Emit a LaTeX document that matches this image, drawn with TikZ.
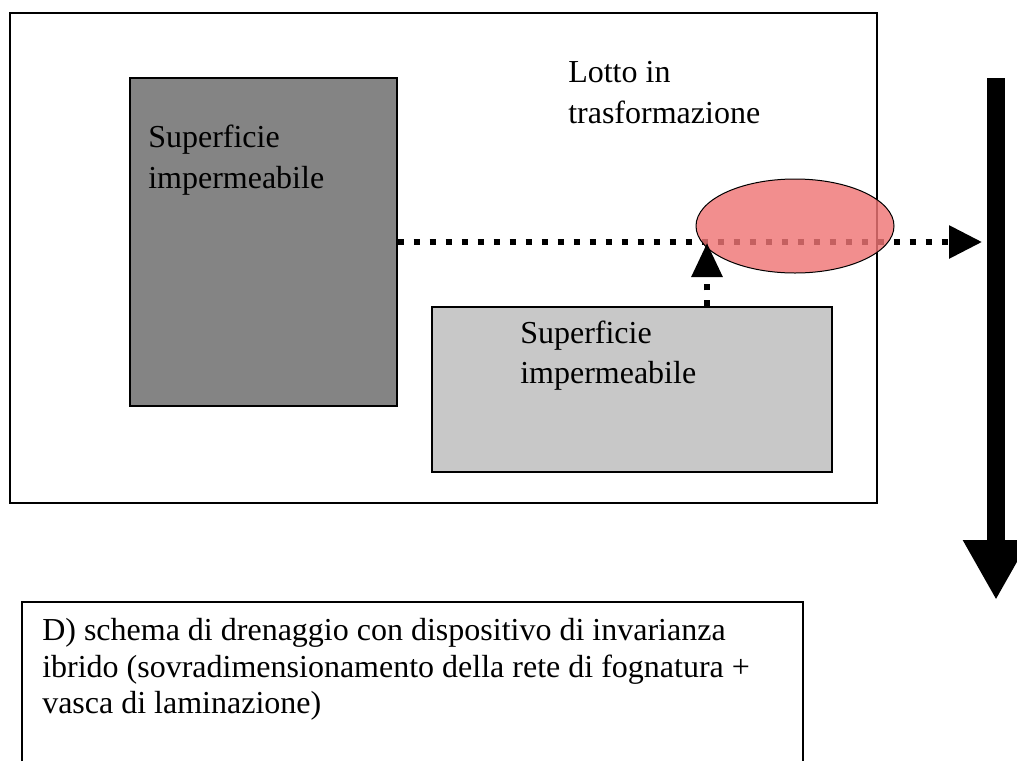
\documentclass[tikz,border=0pt]{standalone}
\usepackage{fontspec}
\setmainfont{Liberation Serif}
\usetikzlibrary{arrows.meta,shapes.geometric}
\definecolor{darkfill}{RGB}{132,132,132}
\definecolor{lightfill}{RGB}{200,200,200}
\definecolor{pondfill}{RGB}{240,118,118}
\tikzset{
  box/.style={draw=black, line width=1pt, inner sep=0pt},
  lbl/.style={anchor=base west, inner sep=0pt, font=\fontsize{24}{28}\selectfont},
  dotline/.style={line width=4.5pt, dash pattern=on 4.5pt off 7.5pt},
}
\begin{document}
\begin{tikzpicture}[x=0.75pt,y=-0.75pt]
\clip (0,0) rectangle (1017,761);
\fill[white] (0,0) rectangle (1017,761);
% outer lot
\node[box, minimum width=650.25pt, minimum height=367.5pt] (lotto) at (443.5,258) {};
% impermeable surfaces
\node[box, fill=darkfill, minimum width=200.25pt, minimum height=246pt] (dark) at (263.5,242) {};
\node[box, fill=lightfill, minimum width=300pt, minimum height=123.75pt] (light) at (632,389.5) {};
% texts
\node[lbl] (lt1) at (568,82) {Lotto in};
\node[lbl] (lt2) at (568,123) {trasformazione};
\node[lbl] (da1) at (148,147) {Superficie};
\node[lbl] (da2) at (148,188) {impermeabile};
\node[lbl] (li1) at (520,343) {Superficie};
\node[lbl] (li2) at (520,383) {impermeabile};
% receiving sewer (thick vertical arrow)
\coordinate (vtop) at (996,78);
\coordinate (vend) at (996,600);
\draw[line width=13.5pt, -{Triangle[length=45pt,width=46.5pt]}] (vtop) -- (vend);
% dotted outflow line
\coordinate (htip) at (982,242);
\draw[dotline, -{Triangle[length=24.75pt,width=24pt]}] (dark.east) -- (htip);
% detention basin
\node[draw=black, line width=0.75pt, fill=pondfill, fill opacity=0.82, ellipse, inner sep=0pt,
      minimum width=148.5pt, minimum height=70.5pt] (pond) at (795,226) {};
% up arrow from second surface
\coordinate (uptip) at (707,243);
\draw[dotline, -{Triangle[length=25.5pt,width=22.5pt]}] (light.north -| uptip) -- (uptip);
% caption box
\coordinate (cbl) at (22,761);
\coordinate (cbr) at (803,761);
\draw[line width=1pt] (cbl) -- (22,602) -- (803,602) -- (cbr);
\node[lbl] (c1) at (42,640) {D) schema di drenaggio con dispositivo di invarianza};
\node[lbl] (c2) at (42,677) {ibrido (sovradimensionamento della rete di fognatura +};
\node[lbl] (c3) at (42,713) {vasca di laminazione)};
\end{tikzpicture}
\end{document}
